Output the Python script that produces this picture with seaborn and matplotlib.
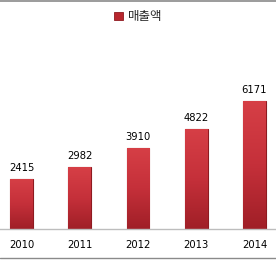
import matplotlib
matplotlib.use("Agg")
import matplotlib.pyplot as plt
import seaborn as sns
import numpy as np
import pandas as pd
from matplotlib.lines import Line2D
from matplotlib.patches import Patch
from matplotlib.colors import LinearSegmentedColormap

years = ["2010", "2011", "2012", "2013", "2014"]
sales = [2415, 2982, 3910, 4822, 6171]
series_name = "매출액"

sns.set_theme(style="white")
plt.rcParams['font.family'] = ['DejaVu Sans', 'Noto Sans CJK KR']

df = pd.DataFrame({"year": years, "sales": sales})

fig = plt.figure(figsize=(2.76, 2.60), dpi=100)
ax = fig.add_axes([-0.0275, 0.1192, 1.055, 0.5585])
sns.barplot(data=df, x="year", y="sales", color="#c8323a", width=0.39,
            edgecolor="#8e1a20", linewidth=0.8, ax=ax, saturation=1)

cmap = LinearSegmentedColormap.from_list("g", ["#a01f27", "#c5303a", "#d63f46"])
grad = np.linspace(0, 1, 100).reshape(-1, 1)
for p in ax.patches:
    x0, y0 = p.get_x(), p.get_y()
    w, h = p.get_width(), p.get_height()
    im = ax.imshow(grad, extent=[x0, x0 + w, y0, y0 + h], origin="lower",
                   cmap=cmap, aspect="auto", zorder=p.get_zorder() + 0.1)
    im.set_clip_path(p)
    ax.annotate(f"{int(round(h))}", (x0 + w / 2, h), xytext=(0, 4.5),
                textcoords="offset points", ha="center", va="bottom",
                fontsize=7.2, color="#000000")

ax.set_xlim(-0.5, 4.5)
ax.set_ylim(0, 7000)
ax.set_xlabel("")
ax.set_ylabel("")
ax.set_yticks([])
ax.tick_params(axis="x", length=0, pad=8, labelsize=7.2, labelcolor="#000000")
for s in ["top", "left", "right"]:
    ax.spines[s].set_visible(False)
ax.spines["bottom"].set_color("#bdbdbd")
ax.spines["bottom"].set_linewidth(1.0)

handle = Patch(facecolor="#b8262e", edgecolor="#8e1a20", linewidth=0.6)
fig.legend([handle], [series_name], loc="center", bbox_to_anchor=(0.5, 0.935),
           frameon=False, handlelength=0.7, handleheight=0.7, handletextpad=0.4,
           prop={"family": ["Noto Sans CJK KR", "DejaVu Sans"], "size": 9})

fig.add_artist(Line2D([0, 1], [0.998, 0.998], color="#8a8a8a", linewidth=1.2,
                      transform=fig.transFigure))
fig.add_artist(Line2D([0, 1], [1 - 257.5 / 260, 1 - 257.5 / 260], color="#8a8a8a",
                      linewidth=1.0, transform=fig.transFigure))

fig.savefig("out.png", dpi=100)
